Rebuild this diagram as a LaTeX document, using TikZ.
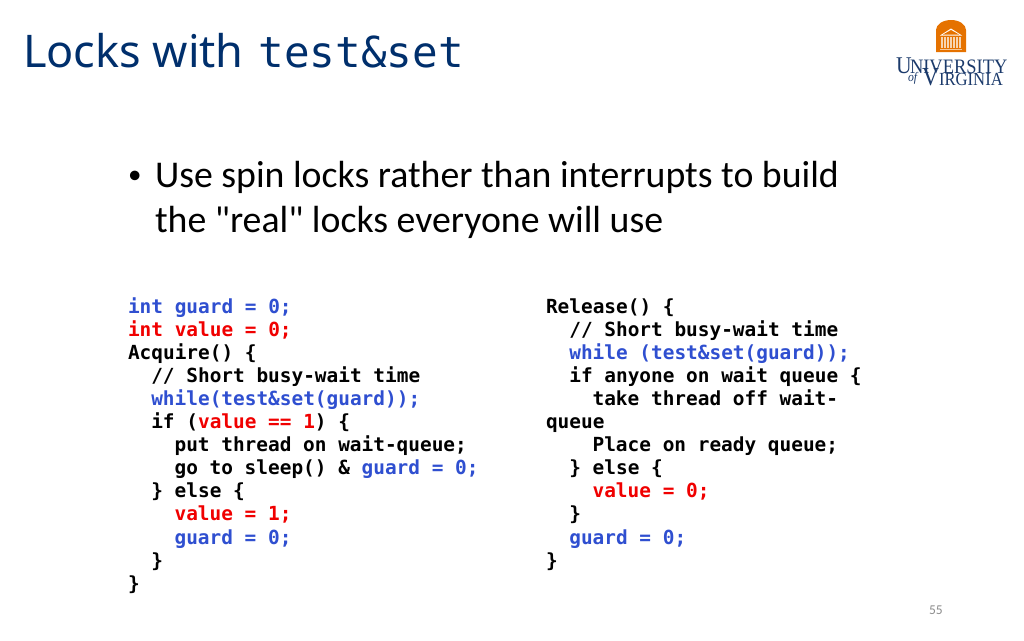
\documentclass[tikz,border=0pt]{standalone}
\usepackage{fontspec}
\setmainfont{Carlito}
\setmonofont{DejaVu Sans Mono}
\newfontfamily\bodyfont{Carlito}
\newfontfamily\titlefont{Noto Sans}
\newfontfamily\titlemono{DejaVu Sans Mono}
\newfontfamily\logofont[FakeStretch=0.9]{Liberation Serif}
\definecolor{titleblue}{HTML}{002F6C}
\definecolor{logoorange}{HTML}{E57200}
\definecolor{logoblue}{HTML}{1B3A6B}
\definecolor{codeblue}{HTML}{2F4FD0}
\definecolor{codered}{HTML}{F00000}
\newcommand{\blu}[1]{\textcolor{codeblue}{#1}}
\newcommand{\rdd}[1]{\textcolor{codered}{#1}}
\tikzset{
  txt/.style={anchor=base west,inner sep=0pt,outer sep=0pt},
  codeline/.style={txt,font=\ttfamily\bfseries\fontsize{19.42}{23}\selectfont},
  bodyline/.style={txt,font=\bodyfont\fontsize{37.8}{44}\selectfont,text=black},
  logoletter/.style={txt,text=logoblue,font=\logofont\fontsize{#1}{#1}\selectfont},
}
\begin{document}
\begin{tikzpicture}[x=1pt,y=-1pt]
    \useasboundingbox (0,0) rectangle (1024,640);

    % title
    \node[txt,text=titleblue,font=\titlefont\fontsize{45}{48}\selectfont] (title) at(23,67) {Locks with};
    \node[txt,text=titleblue,font=\titlemono\fontsize{42.6}{48}\selectfont] (titlecode) at(258.5,67) {test\&set};

    % logo
    \fill[logoorange] (936,52) -- (936,30) arc (180:360:15 and 10) -- (966,52) -- cycle;
    \fill[white] (940,35.5) -- (951,28.5) -- (962,35.5) -- cycle;
    \fill[logoorange] (943,34.5) -- (951,30) -- (959,34.5) -- cycle;
    \foreach \x in {942,945,948,951,954,957,960}
        \fill[white!70!logoorange] (\x-0.6,37) rectangle ++(1.2,11);
    \fill[white!60!logoorange] (940,49) rectangle (962,50);
    \node[logoletter=24] (logou) at(896,73) {U};
    \node[logoletter=20.5] (logouni) at(910,73) {NIVERSITY};
    \node[logoletter=26] (logov) at(922,85) {V};
    \node[logoletter=18.5] (logovir) at(939,85) {IRGINIA};
    \node[txt,text=logoblue,font=\logofont\itshape\fontsize{13}{13}\selectfont] (logoof) at(908,81) {of};

    % bullet
    \node[txt,text=black,font=\bodyfont\fontsize{27}{30}\selectfont] (bullet) at(128,183) {•};
    \node[bodyline] (body1) at(155,187) {Use spin locks rather than interrupts to build};
    \node[bodyline] (body2) at(155,232) {the "real" locks everyone will use};

    % left column
    \node[codeline] (a1) at(128,313) {\blu{int guard = 0;}};
    \node[codeline] (a2) at(128,336.1) {\rdd{int value = 0;}};
    \node[codeline] (a3) at(128,359.2) {Acquire() \{};
    \node[codeline] (a4) at(151.3,382.3) {// Short busy-wait time};
    \node[codeline] (a5) at(151.3,405.4) {\blu{while(test\&set(guard));}};
    \node[codeline] (a6) at(151.3,428.5) {if (\rdd{value == 1}) \{};
    \node[codeline] (a7) at(174.6,451.6) {put thread on wait-queue;};
    \node[codeline] (a8) at(174.6,474.7) {go to sleep() \& \blu{guard = 0;}};
    \node[codeline] (a9) at(151.3,497.8) {\} else \{};
    \node[codeline] (a10) at(174.6,520.9) {\rdd{value = 1;}};
    \node[codeline] (a11) at(174.6,544) {\blu{guard = 0;}};
    \node[codeline] (a12) at(151.3,567.1) {\}};
    \node[codeline] (a13) at(128,590.2) {\}};

    % right column
    \node[codeline] (r1) at(546,313) {Release() \{};
    \node[codeline] (r2) at(569.3,336.1) {// Short busy-wait time};
    \node[codeline] (r3) at(569.3,359.2) {\blu{while (test\&set(guard));}};
    \node[codeline] (r4) at(569.3,382.3) {if anyone on wait queue \{};
    \node[codeline] (r5) at(592.6,405.4) {take thread off wait-};
    \node[codeline] (r6) at(546,428.5) {queue};
    \node[codeline] (r7) at(592.6,451.6) {Place on ready queue;};
    \node[codeline] (r8) at(569.3,474.7) {\} else \{};
    \node[codeline] (r9) at(592.6,497.8) {\rdd{value = 0;}};
    \node[codeline] (r10) at(569.3,520.9) {\}};
    \node[codeline] (r11) at(569.3,544) {\blu{guard = 0;}};
    \node[codeline] (r12) at(546,567.1) {\}};

    % page number
    \node[txt,text=black!45,font=\bodyfont\fontsize{13.5}{14}\selectfont] (pagenum) at(929,614.5) {55};
\end{tikzpicture}
\end{document}
